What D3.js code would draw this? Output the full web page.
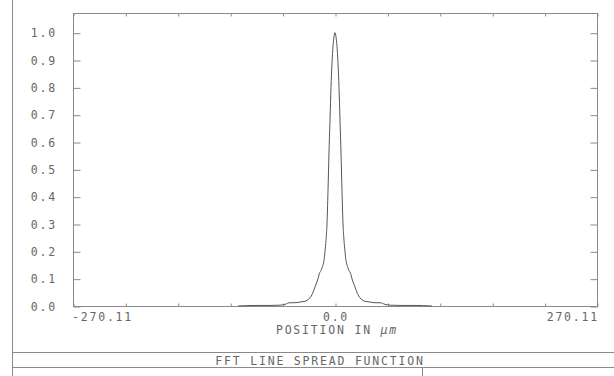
<!DOCTYPE html>
<html>
<head>
<meta charset="utf-8">
<script src="https://cdn.jsdelivr.net/npm/d3@7"></script>
<style>
  body { margin: 0; background: #fff; }
  svg text { font-family: "DejaVu Sans Mono", monospace; font-size: 11.5px; fill: #666; letter-spacing: 1.8px; }
</style>
</head>
<body>
<div id="plot"></div>
<script>
// ############ DATA ###############

// position in micrometres, relative intensity
const position = [-100, -82.5, -67.0, -56.7, -51.6, -46.4, -41.2, -37.1, -33.0, -28.9, -25.8, -23.2, -20.6, -17.5, -16.0, -14.4, -12.9, -11.3, -10.3, -9.28, -8.25, -7.22, -6.19, -5.16, -4.12, -3.09, -2.06, -1.03,
  0,
  1.03, 2.06, 3.09, 4.12, 5.16, 6.19, 7.22, 8.25, 9.28, 10.3, 11.3, 12.9, 14.4, 16.0, 17.5, 20.6, 23.2, 25.8, 28.9, 33.0, 37.1, 41.2, 46.4, 51.6, 56.7, 67.0, 82.5, 100];
const intensity = [0.0, 0.002, 0.002, 0.003, 0.006, 0.012, 0.012, 0.014, 0.016, 0.02, 0.03, 0.045, 0.07, 0.10, 0.12, 0.13, 0.145, 0.167, 0.20, 0.24, 0.30, 0.42, 0.56, 0.68, 0.80, 0.89, 0.95, 0.985,
  1.0,
  0.985, 0.95, 0.89, 0.80, 0.68, 0.56, 0.42, 0.30, 0.24, 0.20, 0.167, 0.145, 0.13, 0.12, 0.10, 0.07, 0.045, 0.03, 0.02, 0.016, 0.014, 0.012, 0.012, 0.006, 0.003, 0.002, 0.002, 0.0];

const xTicks = [-270.11, -216.09, -162.07, -108.04, -54.02, 0, 54.02, 108.04, 162.07, 216.09, 270.11];
const yTicks = [0, 0.1, 0.2, 0.3, 0.4, 0.5, 0.6, 0.7, 0.8, 0.9, 1.0];
const xLabels = [{v: -270.11, t: "-270.11", a: "start"}, {v: 0, t: "0.0", a: "middle"}, {v: 270.11, t: "270.11", a: "end"}];
const title = "FFT LINE SPREAD FUNCTION";

// ############ SETUP ###############

const w = 614, h = 376;
const margin = {left: 73, top: 13, right: 17, bottom: 70};
const innerWidth = w - margin.left - margin.right;
const innerHeight = h - margin.top - margin.bottom;
const grey = "#8a8a8a";

// top of the frame sits a little above 1.0
const xScale = d3.scaleLinear().domain([-270.11, 270.11]).range([0, innerWidth]);
const yScale = d3.scaleLinear().domain([0, 1.0]).range([innerHeight, innerHeight - 273.3]);

const svg = d3.select("div#plot")
  .append("svg")
  .attr("width", w)
  .attr("height", h);

// page frame lines
svg.append("line").attr("x1", 12.5).attr("x2", 12.5).attr("y1", 0).attr("y2", h)
  .attr("stroke", grey);
svg.append("line").attr("x1", 12).attr("x2", w).attr("y1", 352.5).attr("y2", 352.5)
  .attr("stroke", grey);
svg.append("line").attr("x1", 12).attr("x2", w).attr("y1", 367.5).attr("y2", 367.5)
  .attr("stroke", grey);
svg.append("line").attr("x1", 422.5).attr("x2", 422.5).attr("y1", 367).attr("y2", h)
  .attr("stroke", grey);

svg.append("text")
  .attr("x", 320)
  .attr("y", 364.5)
  .attr("text-anchor", "middle")
  .text(title);

const g = svg.append("g")
  .attr("id", "plotarea")
  .attr("transform", `translate(${margin.left}, ${margin.top})`);

g.append("rect")
  .attr("x", 0.5).attr("y", 0.5)
  .attr("width", innerWidth).attr("height", innerHeight)
  .attr("fill", "none")
  .attr("stroke", grey);

// ticks
g.append("g").attr("id", "xtop")
  .call(d3.axisTop(xScale).tickValues(xTicks).tickSizeInner(-3).tickSizeOuter(0).tickFormat(""));
g.append("g").attr("id", "xbottom")
  .attr("transform", `translate(0, ${innerHeight})`)
  .call(d3.axisBottom(xScale).tickValues(xTicks).tickSizeInner(-3).tickSizeOuter(0).tickFormat(""));
g.append("g").attr("id", "yleft")
  .call(d3.axisLeft(yScale).tickValues(yTicks).tickSizeInner(-7).tickSizeOuter(0)
    .tickPadding(16).tickFormat(d3.format(".1f")));
g.append("g").attr("id", "yright")
  .attr("transform", `translate(${innerWidth}, 0)`)
  .call(d3.axisRight(yScale).tickValues(yTicks).tickSizeInner(-7).tickSizeOuter(0).tickFormat(""));

g.selectAll(".domain").remove();
g.selectAll("#xtop text, #xbottom text, #yright text").remove();
g.selectAll(".tick line").attr("stroke", grey).attr("transform", "translate(0.5,0.5)");
g.selectAll("#yleft .tick text")
  .attr("font-family", null).attr("font-size", null).attr("fill", null)
  .attr("dy", "0.36em");

// x labels
g.selectAll("text.xlab")
  .data(xLabels)
  .enter()
  .append("text")
  .attr("class", "xlab")
  .attr("x", d => xScale(d.v) + (d.a === "start" ? -1 : d.a === "end" ? 2 : 1))
  .attr("y", innerHeight + 14.5)
  .attr("text-anchor", d => d.a)
  .text(d => d.t);

const xt = g.append("text")
  .attr("x", innerWidth / 2 + 2)
  .attr("y", innerHeight + 27.5)
  .attr("text-anchor", "middle");
xt.append("tspan").text("POSITION IN ");
xt.append("tspan").attr("font-style", "italic").text("μm");

// curve
const line = d3.line()
  .x((d, i) => xScale(position[i]))
  .y(d => yScale(d))
  .curve(d3.curveMonotoneX);

g.append("path")
  .datum(intensity)
  .attr("d", line)
  .attr("fill", "none")
  .attr("stroke", "#555")
  .attr("stroke-width", 1);
</script>
</body>
</html>
